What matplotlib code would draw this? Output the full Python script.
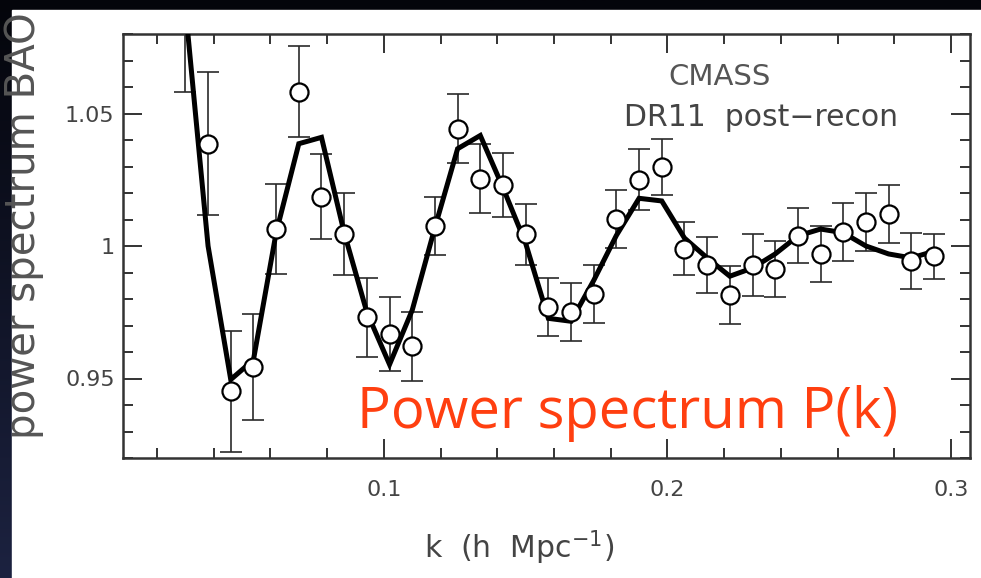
import matplotlib
matplotlib.use("Agg")
import matplotlib.pyplot as plt
from matplotlib.patches import Rectangle
from matplotlib.ticker import MultipleLocator
import numpy as np

# BAO wiggles in the CMASS DR11 post-recon power spectrum
k = [0.030, 0.038, 0.046, 0.054, 0.062, 0.070, 0.078, 0.086, 0.094, 0.102,
     0.110, 0.118, 0.126, 0.134, 0.142, 0.150, 0.158, 0.166, 0.174, 0.182,
     0.190, 0.198, 0.206, 0.214, 0.222, 0.230, 0.238, 0.246, 0.254, 0.262,
     0.270, 0.278, 0.286, 0.294]
p_data = [1.092, 1.0386, 0.9451, 0.9545, 1.0064, 1.0583, 1.0186, 1.0045, 0.9731, 0.9667,
          0.9621, 1.0076, 1.0443, 1.0254, 1.0231, 1.0045, 0.9769, 0.9750, 0.9818, 1.0102,
          1.0250, 1.0299, 0.9989, 0.9928, 0.9814, 0.9928, 0.9913, 1.0038, 0.9970, 1.0053,
          1.0090, 1.0121, 0.9943, 0.9962]
p_err = [0.034, 0.027, 0.023, 0.020, 0.017, 0.017, 0.016, 0.0155, 0.015, 0.014,
         0.013, 0.011, 0.013, 0.013, 0.012, 0.0115, 0.011, 0.011, 0.011, 0.011,
         0.0115, 0.0105, 0.010, 0.0105, 0.011, 0.0118, 0.0105, 0.0104, 0.0105, 0.011,
         0.011, 0.011, 0.0105, 0.0085]
p_model = [1.09, 1.000, 0.9496, 0.957, 1.005, 1.0386, 1.041, 1.005, 0.975, 0.9553,
           0.9758, 1.007, 1.0367, 1.0417, 1.022, 1.001, 0.9727, 0.9716, 0.987, 1.004,
           1.018, 1.017, 1.003, 0.9955, 0.9886, 0.9917, 0.997, 1.0038, 1.0064, 1.005,
           1.000, 0.997, 0.9955, 0.998]

W, H = 981, 578
fig = plt.figure(figsize=(W / 100, H / 100), dpi=100)
fig.patch.set_facecolor('#06070f')

# slide background: dark strip with a bluish tint lower down on the left
bg = fig.add_axes([0, 0, 1, 1])
grad = np.linspace(0, 1, 256).reshape(-1, 1)
bg.imshow(grad, aspect='auto', extent=[0, W, H, 0],
          cmap=matplotlib.colors.LinearSegmentedColormap.from_list('slide', ['#04050b', '#1c2240']))
bg.set_xlim(0, W)
bg.set_ylim(H, 0)
bg.axis('off')
bg.add_patch(Rectangle((12, 10), W - 12, H - 10, color='white', zorder=2))

ax = fig.add_axes([123 / W, (H - 458) / H, (970 - 123) / W, (458 - 34) / H])
ax.set_facecolor('white')

ax.errorbar(k, p_data, yerr=p_err, fmt='none', ecolor='#2a2a2a', elinewidth=1.2,
            capsize=8, capthick=1.2, zorder=2)
ax.plot(k, p_model, color='black', lw=3.6, zorder=3, solid_joinstyle='miter')
ax.plot(k, p_data, 'o', ms=13, mfc='white', mec='black', mew=1.6, zorder=4)

ax.set_xlim(0.008, 0.3067)
ax.set_ylim(0.92, 1.08)
ax.xaxis.set_minor_locator(MultipleLocator(0.02))
ax.yaxis.set_minor_locator(MultipleLocator(0.01))
ax.set_xticks([0.1, 0.2, 0.3])
ax.set_xticklabels(['0.1', '0.2', '0.3'])
ax.set_yticks([0.95, 1.0, 1.05])
ax.set_yticklabels(['0.95', '1', '1.05'])
ax.tick_params(which='both', direction='in', top=True, right=True, color='#333333', width=1.4)
ax.tick_params(which='major', length=14, labelsize=16, labelcolor='#444444')
ax.tick_params(which='minor', length=7)
ax.tick_params(axis='x', which='major', pad=16)
ax.tick_params(axis='y', which='major', pad=6)
for s in ax.spines.values():
    s.set_linewidth(1.8)
    s.set_color('#333333')

ax.text(0.704, 0.898, 'CMASS', transform=ax.transAxes, ha='center', va='center',
        fontsize=21, color='#555555')
ax.text(0.753, 0.803, 'DR11  post\u2212recon', transform=ax.transAxes, ha='center', va='center',
        fontsize=21.5, color='#444444')

fig.text(519 / W, 1 - 548 / H, r'k  (h  Mpc$^{-1}$)', ha='center', va='center',
         fontsize=21.5, color='#444444')
fig.text(24 / W, 1 - 226 / H, 'power spectrum BAO', rotation=90, ha='center', va='center',
         fontsize=29, color='#555555')

fig.text(357 / W, 1 - 428 / H, 'Power spectrum P(k)', ha='left', va='baseline',
         fontsize=40.5, color='#ff3f10', family='Open Sans')

fig.savefig('out.png', dpi=100, facecolor=fig.get_facecolor())
